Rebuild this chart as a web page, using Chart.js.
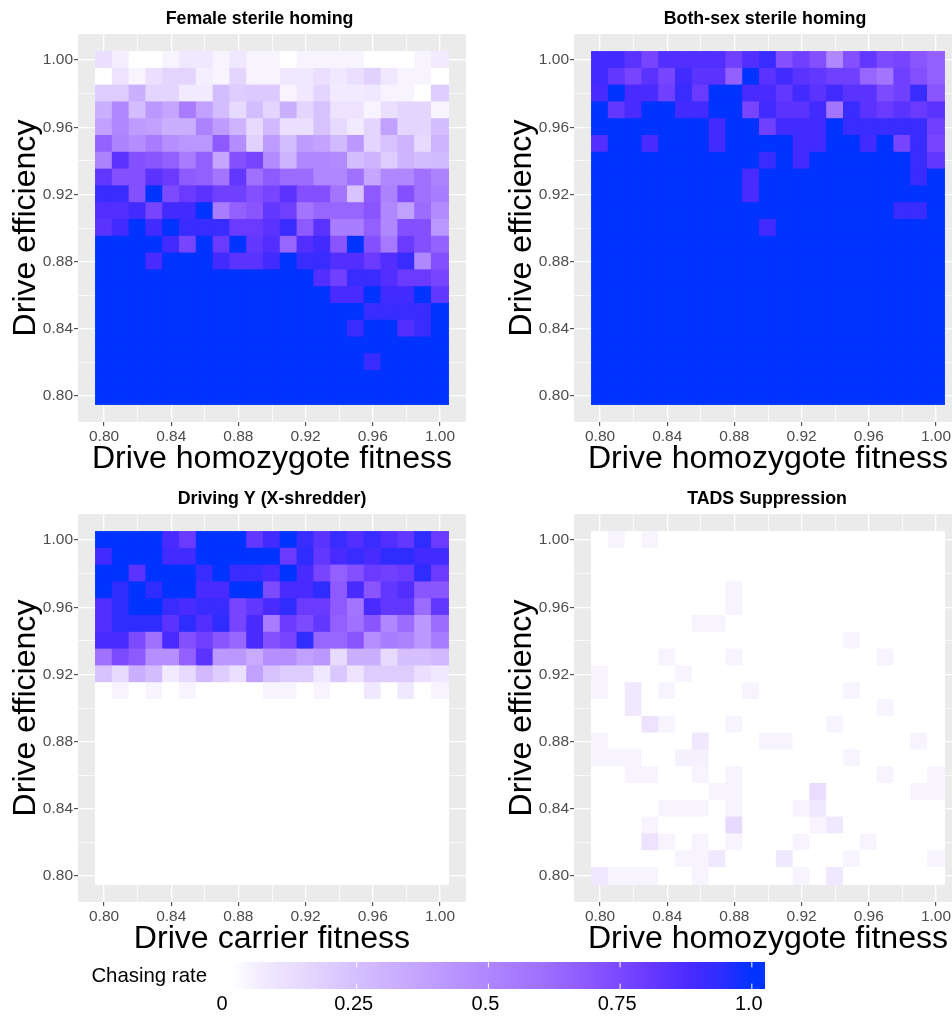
<!DOCTYPE html>
<html>
<head>
<meta charset="utf-8">
<title>Chasing rate</title>
<script src="https://cdn.jsdelivr.net/npm/chart.js@4"></script>
<style>
    html, body { margin: 0; padding: 0; background: #fff; overflow: hidden; }
    #page { position: relative; width: 952px; height: 1017px; overflow: hidden; }
    canvas { position: absolute; }
</style>
</head>
<body>
<div id="page">
    <canvas id="femaleChart" width="480" height="480" style="left:0;top:1px"></canvas>
    <canvas id="bothChart" width="480" height="480" style="left:496px;top:1px"></canvas>
    <canvas id="drivingChart" width="480" height="480" style="left:0;top:481px"></canvas>
    <canvas id="tadsChart" width="480" height="480" style="left:496px;top:481px"></canvas>
    <canvas id="legendChart" width="725" height="67" style="left:60px;top:950px"></canvas>
</div>
<script>
const fitnessValues = [0.80, 0.81, 0.82, 0.83, 0.84, 0.85, 0.86, 0.87, 0.88, 0.89, 0.90, 0.91, 0.92, 0.93, 0.94, 0.95, 0.96, 0.97, 0.98, 0.99, 1.00];
const efficiencyValues = [1.00, 0.99, 0.98, 0.97, 0.96, 0.95, 0.94, 0.93, 0.92, 0.91, 0.90, 0.89, 0.88, 0.87, 0.86, 0.85, 0.84, 0.83, 0.82, 0.81, 0.80];
const gridTicks = [0.80, 0.82, 0.84, 0.86, 0.88, 0.90, 0.92, 0.94, 0.96, 0.98, 1.00];
const labelledTicks = [0.80, 0.84, 0.88, 0.92, 0.96, 1.00];
const legendTicks = [0, 0.25, 0.5, 0.75, 1.0];
const legendTickLabels = ['0', '0.25', '0.5', '0.75', '1.0'];
const legendTitle = 'Chasing rate';

// Rows run from efficiency 1.00 down to 0.80, columns from fitness 0.80 to 1.00
const femaleRates = [
    [.12, .06, 0, 0, .04, .08, .08, .04, .08, .04, .04, 0, .04, .04, .04, .04, 0, 0, 0, .04, .07],
    [0, .1, .04, .12, .16, .16, .06, .04, .16, .04, .04, .08, .08, .12, .08, .12, .18, .08, .04, .04, 0],
    [.2, .2, .32, .16, .16, .07, .07, .26, .2, .21, .21, .04, .08, .16, .07, .07, .08, .04, .04, 0, .2],
    [.32, .5, .26, .42, .36, .55, .38, .26, .14, .26, .16, .32, .16, .24, .1, .1, .04, .12, .16, .16, .04],
    [.38, .5, .4, .38, .32, .32, .52, .4, .3, .14, .28, .12, .12, .24, .14, .07, .16, .38, .16, .16, .26],
    [.65, .52, .47, .55, .46, .43, .43, .68, .47, .18, .4, .26, .4, .37, .27, .42, .16, .24, .3, .14, .3],
    [.52, .84, .72, .7, .66, .55, .66, .36, .72, .76, .48, .3, .5, .5, .48, .26, .3, .2, .3, .26, .27],
    [.82, .72, .72, .84, .8, .68, .66, .58, .82, .6, .68, .62, .62, .5, .5, .6, .36, .5, .5, .6, .52],
    [.92, .92, .72, 1, .74, .8, .84, .78, .78, .72, .76, .84, .72, .72, .58, .24, .68, .52, .72, .6, .54],
    [.86, .86, .9, .76, .9, .9, 1, .55, .66, .7, .82, .78, .58, .64, .64, .64, .7, .5, .38, .62, .48],
    [.84, .9, 1, .9, 1, .92, .92, .92, .8, .8, .84, .92, .68, .84, .54, .54, .66, .5, .72, .72, .42],
    [1, 1, 1, 1, .9, .76, 1, .8, 1, .82, .86, .64, .86, .9, .7, 1, .72, .56, .8, .72, .65],
    [1, 1, 1, .88, 1, 1, 1, .9, .84, .84, .9, 1, .92, .92, .86, .86, .8, .86, .92, .5, .72],
    [1, 1, 1, 1, 1, 1, 1, 1, 1, 1, 1, 1, 1, .86, .78, .92, .92, .86, .8, .8, .76],
    [1, 1, 1, 1, 1, 1, 1, 1, 1, 1, 1, 1, 1, 1, .88, .88, 1, .9, .9, 1, .82],
    [1, 1, 1, 1, 1, 1, 1, 1, 1, 1, 1, 1, 1, 1, 1, 1, .92, .92, .92, .92, 1],
    [1, 1, 1, 1, 1, 1, 1, 1, 1, 1, 1, 1, 1, 1, 1, .92, 1, 1, .86, .92, 1],
    [1, 1, 1, 1, 1, 1, 1, 1, 1, 1, 1, 1, 1, 1, 1, 1, 1, 1, 1, 1, 1],
    [1, 1, 1, 1, 1, 1, 1, 1, 1, 1, 1, 1, 1, 1, 1, 1, .92, 1, 1, 1, 1],
    [1, 1, 1, 1, 1, 1, 1, 1, 1, 1, 1, 1, 1, 1, 1, 1, 1, 1, 1, 1, 1],
    [1, 1, 1, 1, 1, 1, 1, 1, 1, 1, 1, 1, 1, 1, 1, 1, 1, 1, 1, 1, 1]
];

const bothRates = [
    [.9, .9, .84, .76, .86, .86, .86, .86, .78, .86, .92, .72, .78, .72, .5, .72, .82, .74, .76, .7, .66],
    [.9, .82, .76, .84, .76, .9, .84, .84, .66, 1, .84, .9, .84, .82, .78, .78, .64, .58, .78, .72, .66],
    [.88, 1, .88, .88, .78, .92, .8, 1, 1, .88, .88, .82, .9, .84, .9, .84, .84, .74, .78, .92, .7],
    [1, .82, .88, 1, 1, .9, .9, 1, 1, .76, .9, .84, .84, .9, .58, .92, .84, .8, .84, .8, .84],
    [1, 1, 1, 1, 1, 1, 1, .9, 1, 1, .78, .9, .9, .9, 1, .92, .92, .92, .92, .92, .78],
    [.86, 1, 1, .88, 1, 1, 1, .9, 1, 1, 1, 1, .9, .9, 1, 1, .9, 1, .76, .92, .76],
    [1, 1, 1, 1, 1, 1, 1, 1, 1, 1, .92, 1, .9, 1, 1, 1, 1, 1, 1, .92, .82],
    [1, 1, 1, 1, 1, 1, 1, 1, 1, .88, 1, 1, 1, 1, 1, 1, 1, 1, 1, .92, 1],
    [1, 1, 1, 1, 1, 1, 1, 1, 1, .88, 1, 1, 1, 1, 1, 1, 1, 1, 1, 1, 1],
    [1, 1, 1, 1, 1, 1, 1, 1, 1, 1, 1, 1, 1, 1, 1, 1, 1, 1, .92, .92, 1],
    [1, 1, 1, 1, 1, 1, 1, 1, 1, 1, .9, 1, 1, 1, 1, 1, 1, 1, 1, 1, 1],
    [1, 1, 1, 1, 1, 1, 1, 1, 1, 1, 1, 1, 1, 1, 1, 1, 1, 1, 1, 1, 1],
    [1, 1, 1, 1, 1, 1, 1, 1, 1, 1, 1, 1, 1, 1, 1, 1, 1, 1, 1, 1, 1],
    [1, 1, 1, 1, 1, 1, 1, 1, 1, 1, 1, 1, 1, 1, 1, 1, 1, 1, 1, 1, 1],
    [1, 1, 1, 1, 1, 1, 1, 1, 1, 1, 1, 1, 1, 1, 1, 1, 1, 1, 1, 1, 1],
    [1, 1, 1, 1, 1, 1, 1, 1, 1, 1, 1, 1, 1, 1, 1, 1, 1, 1, 1, 1, 1],
    [1, 1, 1, 1, 1, 1, 1, 1, 1, 1, 1, 1, 1, 1, 1, 1, 1, 1, 1, 1, 1],
    [1, 1, 1, 1, 1, 1, 1, 1, 1, 1, 1, 1, 1, 1, 1, 1, 1, 1, 1, 1, 1],
    [1, 1, 1, 1, 1, 1, 1, 1, 1, 1, 1, 1, 1, 1, 1, 1, 1, 1, 1, 1, 1],
    [1, 1, 1, 1, 1, 1, 1, 1, 1, 1, 1, 1, 1, 1, 1, 1, 1, 1, 1, 1, 1],
    [1, 1, 1, 1, 1, 1, 1, 1, 1, 1, 1, 1, 1, 1, 1, 1, 1, 1, 1, 1, 1]
];

const drivingRates = [
    [1, 1, 1, 1, .88, .8, 1, 1, 1, .82, .9, 1, .92, .84, .92, .86, .92, .86, .82, .94, .8],
    [.9, 1, 1, 1, .9, .9, 1, 1, 1, 1, 1, .8, .94, .82, .88, .92, .88, .94, .94, .9, .9],
    [1, 1, .84, 1, 1, 1, .92, 1, .92, .92, .88, 1, .88, .76, .66, .72, .8, .78, .8, .94, .8],
    [1, .94, 1, .94, 1, 1, .88, .88, 1, 1, .74, .88, .88, .94, .68, .88, .7, .82, .86, .7, .7],
    [.86, .94, 1, 1, .92, .88, .92, .92, .76, .82, .88, .94, .8, .8, .68, .58, .88, .82, .82, .62, .82],
    [.86, .94, .94, .94, .84, .94, .86, .94, .76, .88, .55, .8, .74, .82, .66, .6, .7, .5, .62, .42, .62],
    [.88, .88, .74, .6, .88, .72, .78, .7, .64, .88, .72, .76, .94, .64, .64, .7, .46, .54, .52, .42, .54],
    [.6, .74, .68, .46, .46, .66, .84, .42, .42, .34, .46, .46, .38, .42, .14, .32, .32, .14, .25, .25, .28],
    [.24, .14, .32, .26, .07, .14, .28, .2, .12, .38, .24, .2, .2, .08, .22, .1, .2, .2, .2, .12, .08],
    [0, .04, 0, .04, 0, .04, 0, 0, 0, 0, .04, .04, 0, .04, 0, 0, .08, 0, .08, 0, .04],
    [0, 0, 0, 0, 0, 0, 0, 0, 0, 0, 0, 0, 0, 0, 0, 0, 0, 0, 0, 0, 0],
    [0, 0, 0, 0, 0, 0, 0, 0, 0, 0, 0, 0, 0, 0, 0, 0, 0, 0, 0, 0, 0],
    [0, 0, 0, 0, 0, 0, 0, 0, 0, 0, 0, 0, 0, 0, 0, 0, 0, 0, 0, 0, 0],
    [0, 0, 0, 0, 0, 0, 0, 0, 0, 0, 0, 0, 0, 0, 0, 0, 0, 0, 0, 0, 0],
    [0, 0, 0, 0, 0, 0, 0, 0, 0, 0, 0, 0, 0, 0, 0, 0, 0, 0, 0, 0, 0],
    [0, 0, 0, 0, 0, 0, 0, 0, 0, 0, 0, 0, 0, 0, 0, 0, 0, 0, 0, 0, 0],
    [0, 0, 0, 0, 0, 0, 0, 0, 0, 0, 0, 0, 0, 0, 0, 0, 0, 0, 0, 0, 0],
    [0, 0, 0, 0, 0, 0, 0, 0, 0, 0, 0, 0, 0, 0, 0, 0, 0, 0, 0, 0, 0],
    [0, 0, 0, 0, 0, 0, 0, 0, 0, 0, 0, 0, 0, 0, 0, 0, 0, 0, 0, 0, 0],
    [0, 0, 0, 0, 0, 0, 0, 0, 0, 0, 0, 0, 0, 0, 0, 0, 0, 0, 0, 0, 0],
    [0, 0, 0, 0, 0, 0, 0, 0, 0, 0, 0, 0, 0, 0, 0, 0, 0, 0, 0, 0, 0]
];

const tadsRates = [
    [0, .04, 0, .04, 0, 0, 0, 0, 0, 0, 0, 0, 0, 0, 0, 0, 0, 0, 0, 0, 0],
    [0, 0, 0, 0, 0, 0, 0, 0, 0, 0, 0, 0, 0, 0, 0, 0, 0, 0, 0, 0, 0],
    [0, 0, 0, 0, 0, 0, 0, 0, 0, 0, 0, 0, 0, 0, 0, 0, 0, 0, 0, 0, 0],
    [0, 0, 0, 0, 0, 0, 0, 0, .04, 0, 0, 0, 0, 0, 0, 0, 0, 0, 0, 0, 0],
    [0, 0, 0, 0, 0, 0, 0, 0, .04, 0, 0, 0, 0, 0, 0, 0, 0, 0, 0, 0, 0],
    [0, 0, 0, 0, 0, 0, .04, .04, 0, 0, 0, 0, 0, 0, 0, 0, 0, 0, 0, 0, 0],
    [0, 0, 0, 0, 0, 0, 0, 0, 0, 0, 0, 0, 0, 0, 0, .04, 0, 0, 0, 0, 0],
    [0, 0, 0, 0, .04, 0, 0, 0, .04, 0, 0, 0, 0, 0, 0, 0, 0, .04, 0, 0, 0],
    [.04, 0, 0, 0, 0, .04, 0, 0, 0, 0, 0, 0, 0, 0, 0, 0, 0, 0, 0, 0, 0],
    [.04, 0, .08, 0, .04, 0, 0, 0, 0, .04, 0, 0, 0, 0, 0, .04, 0, 0, 0, 0, 0],
    [0, 0, .08, 0, 0, 0, 0, 0, 0, 0, 0, 0, 0, 0, 0, 0, 0, .04, 0, 0, 0],
    [0, 0, 0, .1, .04, 0, 0, 0, .04, 0, 0, 0, 0, 0, .04, 0, 0, 0, 0, 0, 0],
    [.04, 0, 0, 0, 0, 0, .08, 0, 0, 0, .04, .04, 0, 0, 0, 0, 0, 0, 0, .04, 0],
    [.04, .04, .04, 0, 0, .05, .05, 0, 0, 0, 0, 0, 0, 0, 0, .04, 0, 0, 0, 0, 0],
    [0, 0, .04, .04, 0, 0, .04, 0, .04, 0, 0, 0, 0, 0, 0, 0, 0, .04, 0, 0, .04],
    [0, 0, 0, 0, 0, 0, 0, .04, .04, 0, 0, 0, 0, .13, 0, 0, 0, 0, 0, .04, .04],
    [0, 0, 0, 0, .04, .04, .04, 0, .04, 0, 0, 0, .04, .08, 0, 0, 0, 0, 0, 0, 0],
    [0, 0, 0, .04, 0, 0, 0, 0, .14, 0, 0, 0, 0, .04, .08, 0, 0, 0, 0, 0, 0],
    [0, 0, 0, .1, .04, 0, .04, 0, .04, 0, 0, 0, .04, 0, 0, 0, .04, 0, 0, 0, 0],
    [0, 0, 0, 0, 0, .04, .04, .08, 0, 0, 0, .08, 0, 0, 0, .04, 0, 0, 0, 0, .04],
    [.08, .04, .04, .04, 0, 0, .04, 0, 0, 0, 0, 0, .04, 0, .08, 0, 0, 0, 0, 0, 0]
];

// Colour scale
const rateStops = [0, .08, .17, .25, .37, .48, .6, .7, .8, .88, .94, 1];
const rateColors = [[255, 255, 255], [240, 232, 255], [227, 211, 255], [213, 191, 255], [195, 163, 255], [178, 139, 255],
    [160, 112, 255], [138, 85, 255], [106, 59, 255], [74, 43, 255], [47, 44, 255], [0, 51, 255]];

function rateColor(v) {
    let i = 0;
    while (i < rateStops.length - 2 && v > rateStops[i + 1]) i++;
    const t = (v - rateStops[i]) / (rateStops[i + 1] - rateStops[i]);
    const c = rateColors[i].map((a, k) => Math.round(a + (rateColors[i + 1][k] - a) * t));
    return `rgb(${c[0]},${c[1]},${c[2]})`;
}

function cellsFrom(rows) {
    const cells = [];
    rows.forEach((row, r) => {
        row.forEach((rate, c) => {
            const e = efficiencyValues[r];
            cells.push({ x: fitnessValues[c], y: [e - 0.005, e + 0.005], rate: rate });
        });
    });
    return cells;
}

const fontFamily = '"Liberation Sans", Arial, sans-serif';

// ggplot style grey panel and the bold title above it
const panelPlugin = {
    id: 'panelPlugin',
    beforeDraw(chart, args, opts) {
        const a = chart.chartArea;
        chart.ctx.save();
        chart.ctx.fillStyle = '#ebebeb';
        chart.ctx.fillRect(a.left, a.top, a.width, a.height);
        chart.ctx.restore();
    },
    afterDraw(chart, args, opts) {
        const ctx = chart.ctx;
        ctx.save();
        ctx.font = 'bold 17.8px ' + fontFamily;
        ctx.fillStyle = '#000';
        ctx.textAlign = 'center';
        ctx.textBaseline = 'middle';
        ctx.fillText(opts.text, opts.center, 18);
        ctx.restore();
    }
};

function heatmap(id, rows, title, titleCenter, xTitle) {
    const axisBase = {
        type: 'linear',
        min: 0.7845,
        max: 1.0155,
        offset: false,
        afterBuildTicks(scale) {
            scale.ticks = gridTicks.map(v => ({ value: v }));
        },
        grid: {
            offset: false,
            color: '#fff',
            lineWidth: ctx => labelledTicks.includes(ctx.tick.value) ? 1.3 : 0.7,
            tickColor: ctx => labelledTicks.includes(ctx.tick.value) ? '#333' : 'transparent',
            tickLength: 4,
            tickWidth: 1
        },
        border: { display: false },
        ticks: {
            autoSkip: false,
            maxRotation: 0,
            padding: 1,
            color: '#4d4d4d',
            font: { family: fontFamily, size: 15.5 },
            callback: v => labelledTicks.includes(v) ? v.toFixed(2) : ''
        }
    };
    return new Chart(document.getElementById(id), {
        type: 'bar',
        data: {
            datasets: [{
                data: cellsFrom(rows),
                backgroundColor: ctx => rateColor(ctx.raw ? ctx.raw.rate : 0),
                barPercentage: 1,
                categoryPercentage: 1,
                inflateAmount: 0.6
            }]
        },
        options: {
            responsive: false,
            animation: false,
            layout: { padding: { top: 33, right: 14 } },
            scales: {
                x: {
                    ...axisBase,
                    afterFit(scale) { scale.height = 59; },
                    title: { display: true, text: xTitle, color: '#000', padding: { top: 0, bottom: 3 },
                        font: { family: fontFamily, size: 32.1 } }
                },
                y: {
                    ...axisBase,
                    afterFit(scale) { scale.width = 78; },
                    title: { display: true, text: 'Drive efficiency', color: '#000', padding: { top: 6.5, bottom: 0 },
                        font: { family: fontFamily, size: 32.1 } }
                }
            },
            plugins: {
                legend: { display: false },
                tooltip: { enabled: false },
                panelPlugin: { text: title, center: titleCenter }
            }
        },
        plugins: [panelPlugin]
    });
}

heatmap('femaleChart', femaleRates, 'Female sterile homing', 259.5, 'Drive homozygote fitness');
heatmap('bothChart', bothRates, 'Both-sex sterile homing', 269, 'Drive homozygote fitness');
heatmap('drivingChart', drivingRates, 'Driving Y (X-shredder)', 272, 'Drive carrier fitness');
heatmap('tadsChart', tadsRates, 'TADS Suppression', 271, 'Drive homozygote fitness');

// Legend bar, its white tick marks and the title to the left
const legendTicksPlugin = {
    id: 'legendTicksPlugin',
    afterDatasetsDraw(chart) {
        const ctx = chart.ctx;
        const a = chart.chartArea;
        const len = a.height / 5;
        ctx.save();
        ctx.strokeStyle = '#fff';
        ctx.lineWidth = 1;
        legendTicks.slice(1).forEach(v => {
            const x = chart.scales.x.getPixelForValue(v);
            ctx.beginPath();
            ctx.moveTo(x, a.top);
            ctx.lineTo(x, a.top + len);
            ctx.moveTo(x, a.bottom - len);
            ctx.lineTo(x, a.bottom);
            ctx.stroke();
        });
        ctx.font = '20.4px ' + fontFamily;
        ctx.fillStyle = '#000';
        ctx.textAlign = 'right';
        ctx.textBaseline = 'middle';
        ctx.fillText(legendTitle, 147, 26.5);
        ctx.restore();
    }
};

new Chart(document.getElementById('legendChart'), {
    type: 'bar',
    data: {
        labels: [legendTitle],
        datasets: [{
            data: [[0.01, 1.025]],
            barPercentage: 1,
            categoryPercentage: 1,
            backgroundColor(ctx) {
                const area = ctx.chart.chartArea;
                if (!area) return '#fff';
                const sc = ctx.chart.scales.x;
                const g = ctx.chart.ctx.createLinearGradient(sc.getPixelForValue(0.01), 0, sc.getPixelForValue(1), 0);
                rateStops.forEach(s => {
                    g.addColorStop(Math.max(0, (s - 0.01) / 0.99), rateColor(s));
                });
                return g;
            }
        }]
    },
    options: {
        indexAxis: 'y',
        responsive: false,
        animation: false,
        layout: { padding: { top: 12, right: 20 } },
        scales: {
            x: {
                type: 'linear',
                min: 0,
                max: 1.025,
                afterFit(scale) { scale.height = 28; },
                afterBuildTicks(scale) {
                    scale.ticks = legendTicks.map(v => ({ value: v }));
                },
                grid: { display: false, tickLength: 0 },
                border: { display: false },
                ticks: {
                    autoSkip: false,
                    maxRotation: 0,
                    padding: 3,
                    labelOffset: -3,
                    color: '#000',
                    font: { family: fontFamily, size: 20 },
                    callback: (v, i) => legendTickLabels[i]
                }
            },
            y: {
                afterFit(scale) { scale.width = 165; },
                grid: { display: false },
                border: { display: false },
                ticks: { display: false }
            }
        },
        plugins: {
            legend: { display: false },
            tooltip: { enabled: false }
        }
    },
    plugins: [legendTicksPlugin]
});
</script>
</body>
</html>
